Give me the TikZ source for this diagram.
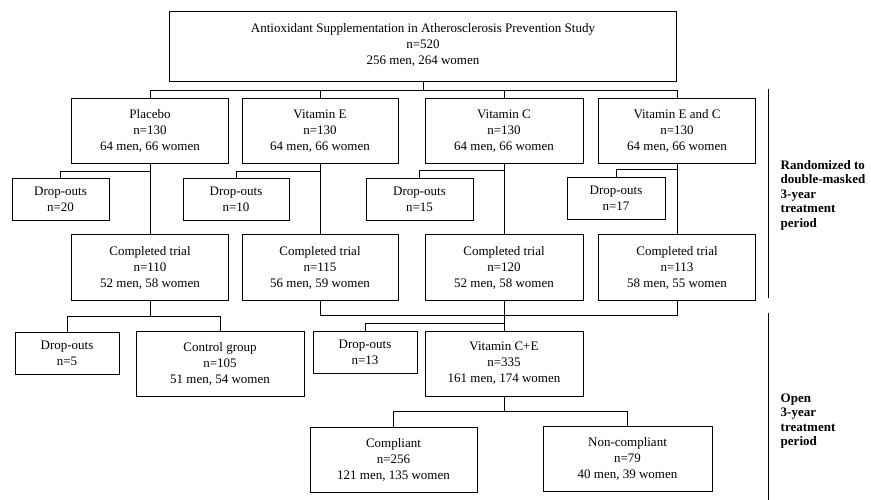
\documentclass[tikz,border=0pt]{standalone}
\usepackage{fontspec}
\setmainfont{Liberation Serif}
\usetikzlibrary{positioning,calc}

\begin{document}
\begin{tikzpicture}[x=1pt, y=-1pt, line width=0.8pt,
        blk/.style={rectangle,draw=black,line width=1pt,align=center,inner sep=2pt,
          font=\fontsize{13}{16}\selectfont,minimum height=65pt},
        loss/.style={blk,minimum height=42pt},
        link/.style={draw=black,line width=0.8pt},
        phase/.style={anchor=west,align=left,font=\fontsize{13}{14.5}\selectfont\bfseries}]
        \useasboundingbox (0,0) rectangle (871,500);
        % study
        \node[blk,minimum width=507pt,minimum height=70pt] at (423,47) (top)
          {Antioxidant Supplementation in Atherosclerosis Prevention Study\\n=520\\256 men, 264 women\rule[-6pt]{0pt}{6pt}};
        % randomized arms
        \node[blk,minimum width=157pt] at (150,131)  (plac) {Placebo\\n=130\\64 men, 66 women};
        \node[blk,minimum width=156pt] at (320,131)  (vite) {Vitamin E\\n=130\\64 men, 66 women};
        \node[blk,minimum width=158pt] at (504,131)  (vitc) {Vitamin C\\n=130\\64 men, 66 women};
        \node[blk,minimum width=157pt] at (677,131)  (vitec) {Vitamin E and C\\n=130\\64 men, 66 women};
        \node[loss,minimum width=97pt]  at (60.5,199.5) (do1) {Drop-outs\\n=20};
        \node[loss,minimum width=106pt] at (236,199.5)  (do2) {Drop-outs\\n=10};
        \node[loss,minimum width=107pt] at (419.5,199.5) (do3) {Drop-outs\\n=15};
        \node[loss,minimum width=98pt]  at (616,198.5)  (do4) {Drop-outs\\n=17};
        \node[blk,minimum width=157pt] at (150,267.5) (ct1) {Completed trial\\n=110\\52 men, 58 women};
        \node[blk,minimum width=156pt] at (320,267.5) (ct2) {Completed trial\\n=115\\56 men, 59 women};
        \node[blk,minimum width=158pt] at (504,267.5) (ct3) {Completed trial\\n=120\\52 men, 58 women};
        \node[blk,minimum width=157pt] at (677,267.5) (ct4) {Completed trial\\n=113\\58 men, 55 women};
        % open phase
        \node[loss,minimum width=104pt] at (67,353)    (do5) {Drop-outs\\n=5};
        \node[blk,minimum width=168pt]  at (220,363.5) (ctrl) {Control group\\n=105\\51 men, 54 women};
        \node[loss,minimum width=104pt] at (365,352.5) (do6) {Drop-outs\\n=13};
        \node[blk,minimum width=158pt]  at (504,363.5) (vitce) {Vitamin C+E\\n=335\\161 men, 174 women};
        \node[blk,minimum width=167pt]  at (393.5,459.5) (comp) {Compliant\\n=256\\121 men, 135 women};
        \node[blk,minimum width=169pt]  at (627.5,458.5) (ncomp) {Non-compliant\\n=79\\40 men, 39 women};
        % connectors
        \draw[link] (top.south) -- ++(0,8) coordinate (br0);
        \draw[link] (plac.north) |- (br0) -| (vitec.north);
        \draw[link] (vite.north) -- (vite.north |- br0);
        \draw[link] (vitc.north) -- (vitc.north |- br0);
        \draw[link] (plac.south) -- (ct1.north);
        \draw[link] (vite.south) -- (ct2.north);
        \draw[link] (vitc.south) -- (ct3.north);
        \draw[link] (vitec.south) -- (ct4.north);
        \draw[link] (do1.north) -- ++(0,-7) -| (plac.south);
        \draw[link] (do2.north) -- ++(0,-7) -| (vite.south);
        \draw[link] (do3.north) -- ++(0,-8) -| (vitc.south);
        \draw[link] (do4.north) -- ++(0,-8) -| (vitec.south);
        \draw[link] (ct1.south) -- ++(0,16) coordinate (br1);
        \draw[link] (do5.north) |- (br1) -| (ctrl.north);
        \draw[link] (ct2.south) -- ++(0,15) coordinate (br2) -| (ct4.south);
        \draw[link] (ct3.south) -- (vitce.north);
        \draw[link] (do6.north) -- ++(0,-8) -| (vitce.north);
        \draw[link] (vitce.south) -- ++(0,15) coordinate (br3);
        \draw[link] (comp.north) |- (br3) -| (ncomp.north);
        % phase divider
        \draw[link] (768,89) -- (768,298);
        \draw[link] (768,313) -- (768,500);
        \node[phase] at (777,195) (rand) {Randomized to\\double-masked\\3-year\\treatment\\period};
        \node[phase] at (777,421) (open) {Open\\3-year\\treatment\\period};
\end{tikzpicture}
\end{document}
